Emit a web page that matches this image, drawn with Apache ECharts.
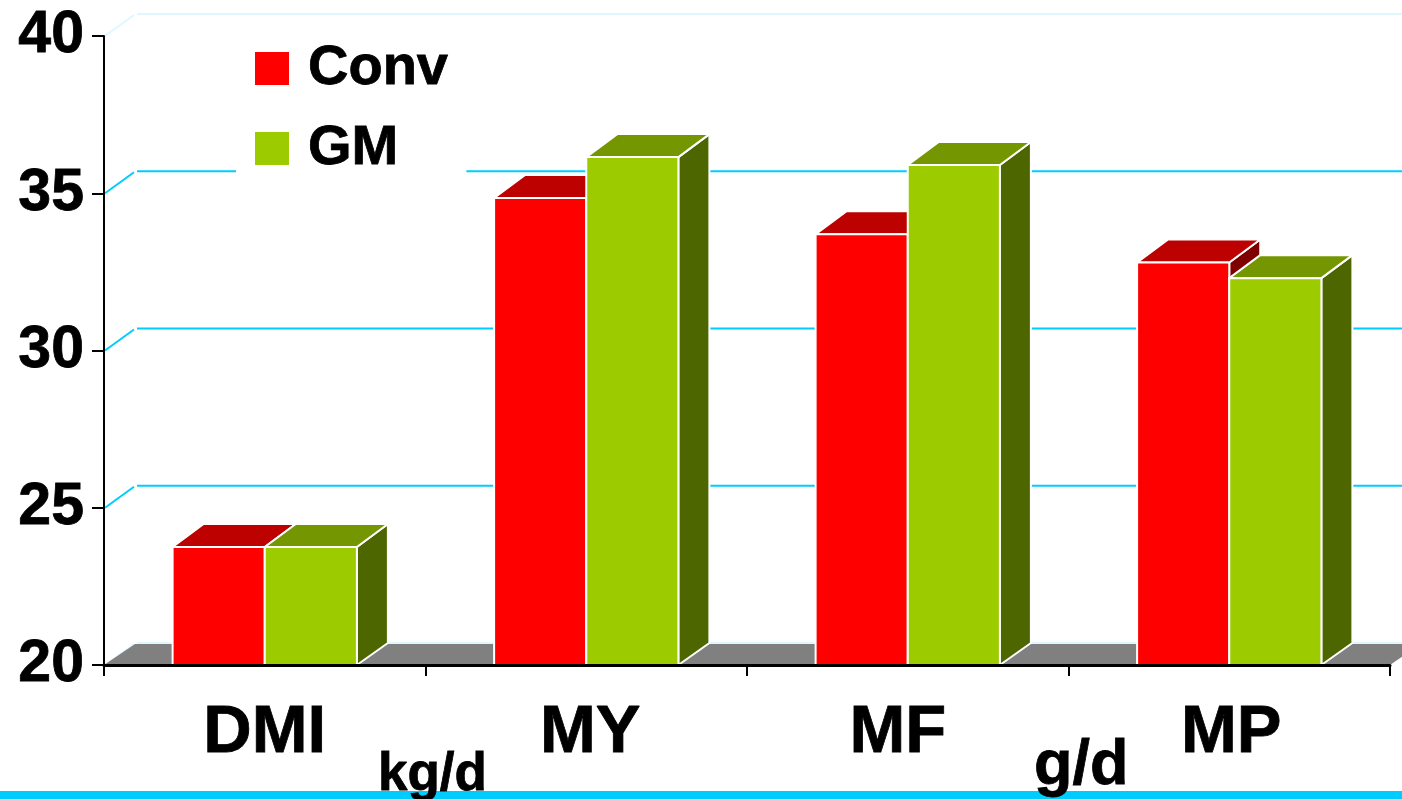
<!DOCTYPE html>
<html>
<head>
<meta charset="utf-8">
<title>Conv vs GM</title>
<script src="https://cdn.jsdelivr.net/npm/echarts@6/dist/echarts.min.js"></script>
<style>
  html, body { margin: 0; padding: 0; background: #fff; }
  #chart { width: 1402px; height: 799px; }
</style>
</head>
<body>
<div id="chart"></div>
<script>
// Measurements per group; the axis is truncated at 20
const categories = ['DMI', 'MY', 'MF', 'MP'];
const convValues = [23.75, 34.85, 33.7, 32.8];
const gmValues = [23.75, 36.15, 35.9, 32.3];
const wallTicks = [20, 25, 30, 35, 40];
const unitLabels = ['kg/d', 'g/d'];

const FONT = '"Liberation Sans", Arial, sans-serif';
const DEPTH_X = 31;
const DEPTH_Y = 22;
const TOP_DEPTH_Y = 23;
const BAR_SHARE = 0.2866;
const CYAN = '#00ccff';
const PALE = '#dff7ff';
const HEAVY = { textBorderColor: '#000', textBorderWidth: 0.8 };

// Extruded bar: front face, top face and right side face
function boxRenderer(side, front, top, dark) {
  return function (params, api) {
    const c = api.coord([api.value(0), api.value(1)]);
    const base = api.coord([api.value(0), 20])[1];
    const w = api.size([1, 0])[0] * BAR_SHARE;
    const x = side < 0 ? c[0] - w : c[0];
    const y = c[1];
    const stroke = { stroke: '#fff', lineWidth: 2, lineJoin: 'round' };
    const poly = (points, fill) => ({
      type: 'polygon',
      shape: { points },
      style: Object.assign({ fill }, stroke)
    });
    return {
      type: 'group',
      children: [
        poly([[x + w, y], [x + w + DEPTH_X, y - TOP_DEPTH_Y],
              [x + w + DEPTH_X, base - DEPTH_Y], [x + w, base]], dark),
        poly([[x, y], [x + w, y], [x + w + DEPTH_X, y - TOP_DEPTH_Y],
              [x + DEPTH_X, y - TOP_DEPTH_Y]], top),
        poly([[x, y], [x + w, y], [x + w, base], [x, base]], front)
      ]
    };
  };
}

// Back wall lines with their short diagonal run to the axis
function renderWall(params, api) {
  const v = api.value(0);
  const sys = params.coordSys;
  const y = api.coord([0, v])[1];
  const pale = v === 20 || v === 40;
  return {
    type: 'group',
    children: [
      {
        type: 'polyline',
        shape: { points: [[sys.x + 1, y], [sys.x + DEPTH_X - 1, y - DEPTH_Y + 1]] },
        style: { fill: null, stroke: pale ? PALE : CYAN, lineWidth: 2 }
      },
      {
        type: 'line',
        shape: { x1: sys.x + DEPTH_X + 2, y1: y - DEPTH_Y, x2: 1402, y2: y - DEPTH_Y },
        style: { stroke: pale ? PALE : CYAN, lineWidth: 2 }
      }
    ]
  };
}

// Grey floor receding from the category axis
function renderFloor(params, api) {
  const sys = params.coordSys;
  const y = api.coord([0, 20])[1];
  const x0 = sys.x;
  const x1 = sys.x + sys.width;
  return {
    type: 'polygon',
    shape: {
      points: [[x0, y], [x0 + DEPTH_X, y - DEPTH_Y + 1],
               [x1 + DEPTH_X, y - DEPTH_Y + 1], [x1, y]]
    },
    style: { fill: '#808080' }
  };
}

const labelShift = {
  DMI: [0, 0, 0, 0],
  MY: [0, 0, 0, 8],
  MF: [0, 20, 0, 0],
  MP: [0, 0, 0, 4]
};
const richLabels = {};
categories.forEach(function (name) {
  richLabels[name] = Object.assign({
    fontFamily: FONT, fontWeight: 'bold', fontSize: 67, color: '#000',
    padding: labelShift[name]
  }, HEAVY);
});

const chart = echarts.init(document.getElementById('chart'), null, { renderer: 'canvas' });
chart.setOption({
  animation: false,
  backgroundColor: '#fff',
  grid: { left: 104, right: 12, top: 36, bottom: 134 },
  legend: {
    data: ['Conv', 'GM'],
    orient: 'vertical',
    left: 236,
    top: 30,
    padding: [5, 18, 0, 19],
    backgroundColor: '#fff',
    icon: 'rect',
    itemWidth: 34,
    itemHeight: 33,
    itemGap: 13,
    textStyle: Object.assign({
      fontFamily: FONT, fontWeight: 'bold', fontSize: 56, color: '#000',
      lineHeight: 54, padding: [13, 0, 0, 14]
    }, HEAVY),
    selectedMode: false
  },
  xAxis: {
    type: 'category',
    data: categories,
    z: 10,
    axisLine: { lineStyle: { color: '#000', width: 3 } },
    axisTick: { show: true, length: 11, alignWithLabel: false, lineStyle: { color: '#000', width: 2 } },
    axisLabel: {
      margin: 35,
      interval: 0,
      formatter: function (v) { return '{' + v + '|' + v + '}'; },
      rich: richLabels
    },
    splitLine: { show: false }
  },
  yAxis: {
    type: 'value',
    min: 20,
    max: 40,
    interval: 5,
    z: 10,
    axisLine: { show: true, lineStyle: { color: '#000', width: 2 } },
    axisTick: { show: true, length: 12, lineStyle: { color: '#000', width: 2 } },
    axisLabel: Object.assign({
      margin: 20,
      padding: [13, 0, 0, 0],
      fontFamily: FONT, fontWeight: 'bold', fontSize: 59, color: '#000'
    }, HEAVY),
    splitLine: { show: false }
  },
  series: [
    {
      type: 'custom', name: 'wall', z: 1, silent: true,
      data: wallTicks.map(function (v) { return [v]; }),
      encode: { y: 0 },
      renderItem: renderWall
    },
    {
      type: 'custom', name: 'floor', z: 1, silent: true,
      data: [[20]],
      encode: { y: 0 },
      renderItem: renderFloor
    },
    {
      type: 'custom', name: 'Conv', z: 2,
      itemStyle: { color: '#ff0000' },
      data: convValues.map(function (v, i) { return [i, v]; }),
      encode: { x: 0, y: 1 },
      renderItem: boxRenderer(-1, '#ff0000', '#bd0000', '#800000')
    },
    {
      type: 'custom', name: 'GM', z: 3,
      itemStyle: { color: '#9ccc00' },
      data: gmValues.map(function (v, i) { return [i, v]; }),
      encode: { x: 0, y: 1 },
      renderItem: boxRenderer(1, '#9ccc00', '#749600', '#4e6600')
    }
  ],
  graphic: [
    {
      type: 'rect', z: 20,
      shape: { x: 0, y: 791, width: 1402, height: 8 },
      style: { fill: CYAN }
    },
    {
      type: 'text', z: 21, x: 378, y: 802,
      style: Object.assign({
        text: unitLabels[0], fill: '#000', verticalAlign: 'bottom',
        font: 'bold 53px ' + FONT
      }, { stroke: '#000', lineWidth: 0.8 })
    },
    {
      type: 'text', z: 21, x: 1034, y: 798,
      style: Object.assign({
        text: unitLabels[1], fill: '#000', verticalAlign: 'bottom',
        font: 'bold 63px ' + FONT
      }, { stroke: '#000', lineWidth: 0.8 })
    }
  ]
});
</script>
</body>
</html>
